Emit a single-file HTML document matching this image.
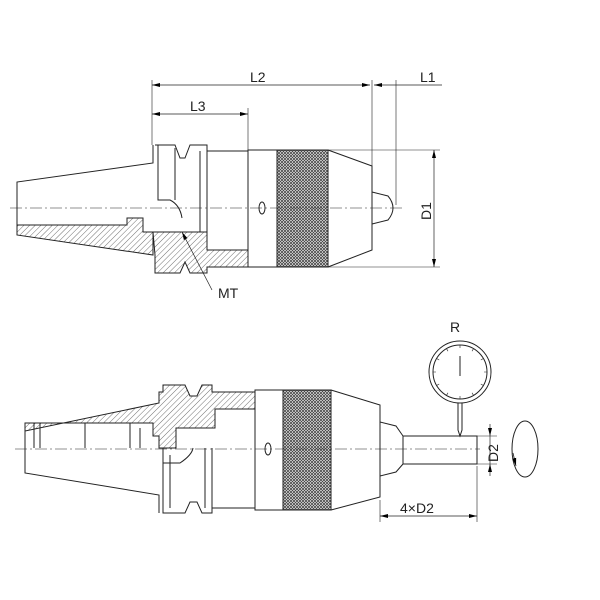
<!DOCTYPE html>
<html><head><meta charset="utf-8"><style>body{margin:0;background:#fff}svg{display:block}</style></head><body>
<svg width="600" height="600" viewBox="0 0 600 600" xmlns="http://www.w3.org/2000/svg" font-family="Liberation Sans, sans-serif">
<defs>
<pattern id="h" width="4" height="4" patternUnits="userSpaceOnUse" patternTransform="rotate(45)"><line x1="0" y1="0" x2="0" y2="4" stroke="#333" stroke-width="0.7"/></pattern>
<pattern id="k" width="3" height="3" patternUnits="userSpaceOnUse"><rect width="3" height="3" fill="#fff"/><path d="M0 0L3 3M3 0L0 3" stroke="#444" stroke-width="0.8"/></pattern>
<marker id="a" markerWidth="8" markerHeight="6" refX="8" refY="3" orient="auto-start-reverse" markerUnits="userSpaceOnUse"><path d="M0 1L8 3L0 5Z" fill="#000"/></marker>
</defs>
<g fill="none" stroke="#222" stroke-width="1">
<!-- TOP -->
<path d="M17 208V182L153 163V145" />
<path d="M17 225H127V218H143V232H153V255L17 235Z" fill="url(#h)"/>
<path d="M17 208V235"/>
<path d="M153 232H207V250H248V267H207V273H190L185 262L180 273H155V255Z" fill="url(#h)"/>
<path d="M155 145H175L180 158L185 158L190 145H207V151H248V232"/>
<path d="M158 145V200H170Q180 205 182 218M175 148V200M200 151V232"/>
<path d="M207 151V232"/>
<rect x="248" y="150" width="29" height="117"/>
<rect x="277" y="150" width="51" height="117" fill="url(#k)"/>
<path d="M328 150L372 166V250L328 267"/>
<path d="M372 192L388 196Q398 208 388 220L372 224"/>
<line x1="10" y1="208" x2="405" y2="208" stroke-dasharray="12 3 2 3" stroke-width="0.6"/>
<ellipse cx="262" cy="208" rx="3" ry="6"/>
<!-- dims top -->
<path d="M152 145V80M248 150V108M372 166V80M396 205V80M328 150H440M328 267H440" stroke-width="0.6"/>
<line x1="152" y1="85" x2="370" y2="85" marker-start="url(#a)" marker-end="url(#a)" stroke-width="0.7"/>
<line x1="374" y1="85" x2="396" y2="85" marker-start="url(#a)" stroke-width="0.7"/>
<line x1="396" y1="85" x2="442" y2="85" stroke-width="0.7"/>
<line x1="152" y1="114" x2="248" y2="114" marker-start="url(#a)" marker-end="url(#a)" stroke-width="0.7"/>
<line x1="434" y1="150" x2="434" y2="267" marker-start="url(#a)" marker-end="url(#a)" stroke-width="0.7"/>
<path d="M182 232L212 290" stroke-width="0.7" marker-start="url(#a)"/>

<!-- BOTTOM -->
<path d="M25 448V473L159 495V513"/>
<path d="M25 448V431L159 403V392H163V385H185L190 396L197 396L202 385H212V392H255V409H215V428H176V448H159V436H153V423H25Z" fill="url(#h)"/>
<path d="M34 423V448M40 423V448M85 423V448M130 423V448M140 428V448"/>
<path d="M163 448V513H185L190 502H197L202 513H212V448M170 455V508M163 463H180Q192 455 193 448M205 448V508"/>
<path d="M212 448V508H255V409"/>
<rect x="255" y="390" width="28" height="120"/>
<rect x="283" y="390" width="48" height="120" fill="url(#k)"/>
<path d="M331 390L380 405V497L331 510"/>
<path d="M380 422L396 426L403 436M380 476L396 472L403 464"/>
<rect x="403" y="436" width="74" height="28"/>
<line x1="15" y1="449" x2="480" y2="449" stroke-dasharray="12 3 2 3" stroke-width="0.6"/>
<ellipse cx="268" cy="449" rx="3" ry="6"/>
<circle cx="460" cy="372" r="31"/>
<circle cx="460" cy="372" r="27"/>
<g stroke-width="0.6">
<path d="M460 345v3M460 399v-3M433 372h3M487 372h-3M473.5 348.6l-1.5 2.6M446.5 348.6l1.5 2.6M473.5 395.4l-1.5-2.6M446.5 395.4l1.5-2.6M483.4 358.5l-2.6 1.5M436.6 358.5l2.6 1.5M483.4 385.5l-2.6-1.5M436.6 385.5l2.6-1.5"/>
</g>
<line x1="460" y1="356" x2="460" y2="376"/>
<path d="M458 403V430L460 436L462 430V403"/>
<ellipse cx="525" cy="449" rx="13" ry="28"/>
<path d="M513 453L516 466" marker-end="url(#a)" stroke-width="0.8"/>
<!-- dims bottom -->
<path d="M477 436H497M477 464H497M380 500V522M477 466V522" stroke-width="0.6"/>
<line x1="490" y1="424" x2="490" y2="436" marker-end="url(#a)" stroke-width="0.7"/>
<line x1="490" y1="476" x2="490" y2="464" marker-end="url(#a)" stroke-width="0.7"/>
<line x1="490" y1="436" x2="490" y2="464" stroke-width="0.7"/>
<line x1="380" y1="516" x2="477" y2="516" marker-start="url(#a)" marker-end="url(#a)" stroke-width="0.7"/>
</g>
<g font-size="14" fill="#222">
<text x="250" y="82">L2</text>
<text x="420" y="82">L1</text>
<text x="190" y="111">L3</text>
<text x="218" y="298">MT</text>
<text x="450" y="332">R</text>
<text x="400" y="513">4×D2</text>
<text transform="translate(431,220) rotate(-90)">D1</text>
<text transform="translate(498,462) rotate(-90)">D2</text>
</g>
</svg>
</body></html>
